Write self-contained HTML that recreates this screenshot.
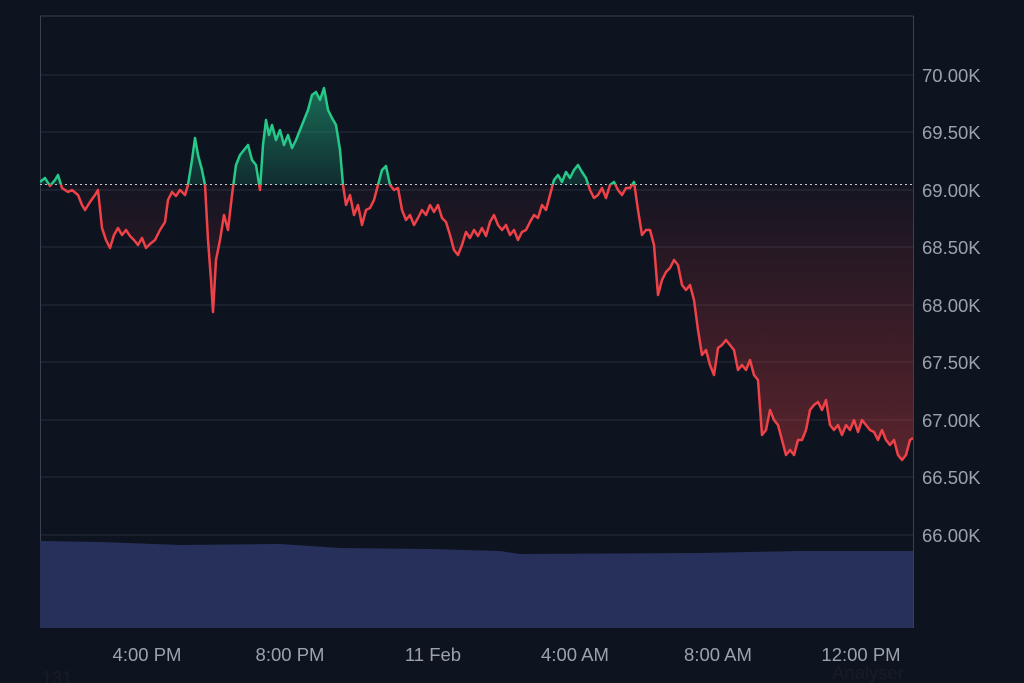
<!DOCTYPE html>
<html><head><meta charset="utf-8"><style>
html,body{margin:0;padding:0;background:#0e1320;}
svg{display:block;font-family:"Liberation Sans",sans-serif;}
</style></head><body>
<svg width="1024" height="683" viewBox="0 0 1024 683" xmlns="http://www.w3.org/2000/svg">
<defs>
<clipPath id="up"><rect x="40" y="0" width="873" height="184.5"/></clipPath>
<clipPath id="dn"><rect x="40" y="184.5" width="873" height="400"/></clipPath>
<linearGradient id="gg" gradientUnits="userSpaceOnUse" x1="0" y1="184" x2="0" y2="88"><stop offset="0" stop-color="#22c38a" stop-opacity="0.15"/><stop offset="1" stop-color="#22c38a" stop-opacity="0.5"/></linearGradient>
<linearGradient id="rg" gradientUnits="userSpaceOnUse" x1="0" y1="184" x2="0" y2="470"><stop offset="0" stop-color="#ef4444" stop-opacity="0.03"/><stop offset="1" stop-color="#ef4444" stop-opacity="0.35"/></linearGradient>
</defs>
<rect width="1024" height="683" fill="#0e1320"/>
<g stroke="#272d3b" stroke-width="1">
<line x1="40" y1="75" x2="913" y2="75"/><line x1="40" y1="132" x2="913" y2="132"/><line x1="40" y1="190" x2="913" y2="190"/><line x1="40" y1="247" x2="913" y2="247"/><line x1="40" y1="305" x2="913" y2="305"/><line x1="40" y1="362" x2="913" y2="362"/><line x1="40" y1="420" x2="913" y2="420"/><line x1="40" y1="477" x2="913" y2="477"/><line x1="40" y1="535" x2="913" y2="535"/>
</g>
<g stroke="#3a4050" stroke-width="1" fill="none">
<line x1="40" y1="16" x2="913" y2="16"/><line x1="40.5" y1="16" x2="40.5" y2="628"/><line x1="913.5" y1="16" x2="913.5" y2="628"/>
</g>
<polygon fill="#27305a" points="40,541 100,542 180,545 280,544 340,548 430,549 500,551 520,554 700,553 800,551 913,551 913,628 40,628"/>
<line x1="40" y1="184.5" x2="913" y2="184.5" stroke="#c8ccd4" stroke-width="1" stroke-dasharray="2,3"/>
<g id="d"></g>
<script>
var p="40,182 45,178 50,186 55,180 58,175 62,188 68,192 72,190 78,195 82,205 85,210 90,202 95,195 98,190 102,228 106,240 110,248 114,235 118,228 122,235 126,230 130,236 134,240 138,245 142,238 146,248 150,244 155,240 160,230 165,222 168,200 172,192 176,196 180,190 185,195 188,185 192,160 195,138 198,155 202,170 205,185 208,240 211,280 213,312 216,260 220,240 224,215 228,230 232,195 236,165 240,155 244,150 248,145 252,160 256,165 260,190 263,145 266,120 269,135 272,125 276,140 280,130 284,145 288,135 292,148 296,140 300,130 304,120 308,110 312,95 316,92 320,100 324,88 328,110 332,118 336,125 340,150 343,185 346,205 350,195 354,215 358,205 362,225 366,210 370,208 374,200 378,185 382,170 386,166 390,185 394,190 398,188 402,210 406,220 410,215 414,225 418,218 422,210 426,215 430,205 434,212 438,205 442,218 446,222 450,235 454,250 458,255 462,245 466,232 470,238 474,230 478,236 482,228 486,236 490,222 494,215 498,225 502,230 506,225 510,235 514,230 518,240 522,232 526,230 530,222 534,215 538,218 542,205 546,210 550,195 554,180 558,175 562,182 566,172 570,178 574,170 578,165 582,172 586,178 590,190 594,198 598,195 602,188 606,198 610,185 614,182 618,190 622,195 626,188 630,188 634,182 638,210 642,235 646,230 650,230 654,245 658,295 662,280 666,272 670,268 674,260 678,265 682,285 686,290 690,285 694,300 698,330 702,355 706,350 710,365 714,375 718,348 722,345 726,340 730,345 734,350 738,370 742,365 746,370 750,360 754,375 758,380 762,435 766,430 770,410 774,420 778,425 782,440 786,455 790,450 794,455 798,440 802,440 806,430 810,410 814,405 818,402 822,410 826,400 830,425 834,430 838,425 842,435 846,425 850,430 854,420 858,432 862,420 866,425 870,430 874,432 878,440 882,430 886,440 890,445 894,440 898,455 902,460 906,455 910,440 913,438";
var ns="http://www.w3.org/2000/svg",g=document.getElementById("d");
function mk(t,a){var e=document.createElementNS(ns,t);for(var k in a)e.setAttribute(k,a[k]);g.appendChild(e);}
var ap="40,184.5 "+p+" 913,184.5";
mk("polygon",{points:ap,fill:"url(#gg)","clip-path":"url(#up)"});
mk("polygon",{points:ap,fill:"url(#rg)","clip-path":"url(#dn)"});
mk("polyline",{points:p,fill:"none",stroke:"#26c987","stroke-width":"2.5","stroke-linejoin":"round","clip-path":"url(#up)"});
mk("polyline",{points:p,fill:"none",stroke:"#ef4248","stroke-width":"2.5","stroke-linejoin":"round","clip-path":"url(#dn)"});
</script>
<g fill="#9ba1ad" font-size="18.5">
<text x="922" y="82">70.00K</text><text x="922" y="139">69.50K</text><text x="922" y="197">69.00K</text><text x="922" y="254">68.50K</text><text x="922" y="312">68.00K</text><text x="922" y="369">67.50K</text><text x="922" y="427">67.00K</text><text x="922" y="484">66.50K</text><text x="922" y="542">66.00K</text>
</g>
<g fill="#9ba1ad" font-size="18.5" text-anchor="middle">
<text x="147" y="661">4:00 PM</text><text x="290" y="661">8:00 PM</text><text x="433" y="661">11 Feb</text><text x="575" y="661">4:00 AM</text><text x="718" y="661">8:00 AM</text><text x="861" y="661">12:00 PM</text>
</g>
<text x="42" y="684" fill="#171c28" font-size="18">131</text>
<text x="832" y="679" fill="#171c28" font-size="18.5">Analyser</text>
</svg>
</body></html>
